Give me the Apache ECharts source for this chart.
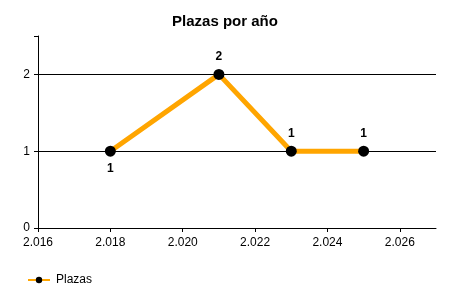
<!DOCTYPE html>
<html><head><meta charset="utf-8">
<script src="https://cdn.jsdelivr.net/npm/echarts@6/dist/echarts.min.js"></script>
<style>html,body{margin:0;padding:0;background:#fff}#c{width:450px;height:300px}</style>
</head><body><div id="c"></div>
<script>
const years = [2018, 2021, 2023, 2025];
const plazas = [1, 2, 1, 1];
const labelPos = ['bottom', 'top', 'top', 'top'];
const seriesName = 'Plazas';
const titleText = 'Plazas por año';

const font = '"Liberation Sans", Arial, sans-serif';
const fmt = v => { const s = String(Math.round(v)); return s.length > 3 ? s.slice(0, s.length - 3) + '.' + s.slice(-3) : s; };

const chart = echarts.init(document.getElementById('c'), null, {renderer: 'canvas'});
chart.setOption({
  animation: false,
  title: {text: titleText, left: 'center', top: 9,
    textStyle: {fontFamily: font, fontSize: 15, fontWeight: 'bold', color: '#000'}},
  grid: {left: 38, right: 14, top: 36, bottom: 72},
  legend: {left: 22, bottom: 9, itemWidth: 22, itemHeight: 8, itemGap: 5,
    textStyle: {fontFamily: font, fontSize: 12, color: '#000', padding: [0, 0, 0, 1]},
    data: [seriesName]},
  xAxis: {type: 'value', min: 2016, max: 2027, interval: 2,
    axisLine: {lineStyle: {color: '#000', width: 1}},
    axisTick: {show: true, length: 4, lineStyle: {color: '#000'}},
    axisLabel: {fontFamily: font, fontSize: 12, color: '#000', margin: 9, formatter: fmt,
      showMaxLabel: false},
    splitLine: {show: false}},
  yAxis: {type: 'value', min: 0, max: 2.5, interval: 1,
    axisLine: {show: true, lineStyle: {color: '#000', width: 1}},
    axisTick: {show: true, length: 4, lineStyle: {color: '#000'}},
    axisLabel: {fontFamily: font, fontSize: 12, color: '#000', margin: 8,
      formatter: v => (Number.isInteger(v) ? String(v) : '')},
    splitLine: {show: true, showMaxLine: false, showMinLine: false, lineStyle: {color: '#000', width: 1}}},
  series: [{
    name: seriesName, type: 'line',
    data: years.map((y, i) => ({value: [y, plazas[i]], label: {position: labelPos[i]}})),
    symbol: 'circle', symbolSize: 11,
    itemStyle: {color: '#000'},
    lineStyle: {color: '#FFA500', width: 5},
    label: {show: true, fontFamily: font, fontSize: 12, fontWeight: 'bold', color: '#000', distance: 6,
      formatter: p => p.value[1]}
  }]
});
</script></body></html>
